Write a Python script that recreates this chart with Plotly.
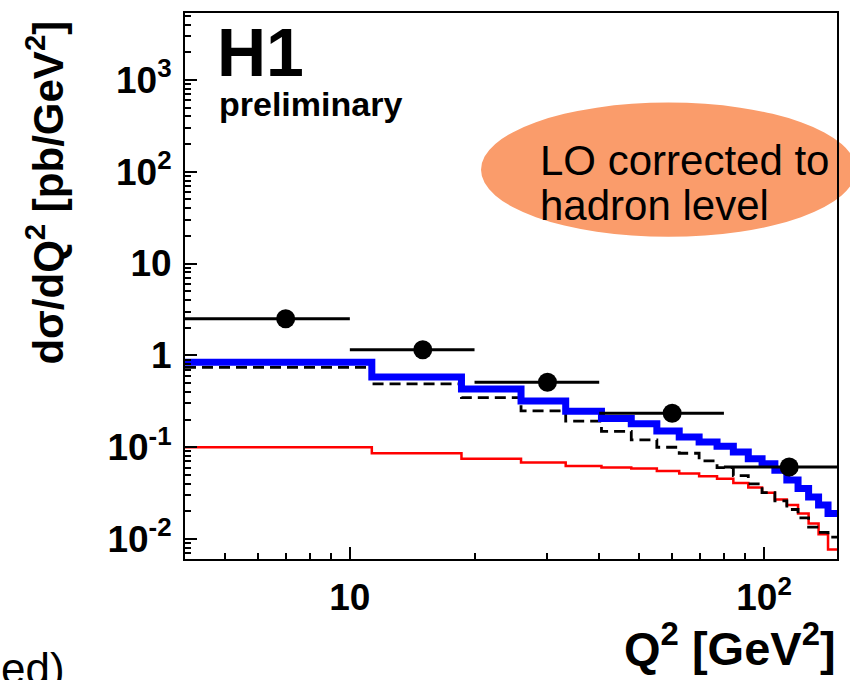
import plotly.graph_objects as go

# ---- data ----
BIN_EDGES = [4.0, 11.3, 18.6, 25.9, 33.2, 40.5, 47.8, 55.1, 62.4, 69.7, 77.0,
             84.3, 91.6, 98.9, 106.2, 113.5, 120.8, 128.1, 135.4, 142.7, 150.0]
BLUE_VALS = [0.84, 0.58, 0.43, 0.318, 0.246, 0.205, 0.18, 0.150, 0.129, 0.114,
             0.1026, 0.089, 0.075, 0.066, 0.056, 0.044, 0.0355, 0.0288, 0.0235, 0.019]
DASHED_VALS = [0.74, 0.49, 0.347, 0.249, 0.192, 0.149, 0.12, 0.10, 0.086, 0.071,
               0.060, 0.049, 0.040, 0.032, 0.026, 0.021, 0.017, 0.0135, 0.0118, 0.0105]
RED_VALS = [0.100, 0.086, 0.075, 0.0684, 0.0626, 0.060, 0.0585, 0.055, 0.0516, 0.0484,
            0.0454, 0.0409, 0.0365, 0.032, 0.027, 0.0235, 0.019, 0.0148, 0.0113, 0.0077]

DATA_Q2 = [7, 15, 30, 60, 115]
DATA_VALS = [2.5, 1.15, 0.51, 0.234, 0.061]
DATA_LO = [4, 10, 20, 40, 80]
DATA_HI = [10, 20, 40, 80, 150]

Y_TICK_VALS = [0.01, 0.1, 1, 10, 100, 1000]
Y_TICK_TEXT = ["10<sup>-2</sup>", "10<sup>-1</sup>", "1", "10", "10<sup>2</sup>", "10<sup>3</sup>"]
X_TICK_VALS = [10, 100]
X_TICK_TEXT = ["10", "10<sup>2</sup>"]

Y_MINOR = [m * 10.0 ** e for e in range(-3, 4) for m in range(2, 10)]
X_MINOR = [m * 10.0 ** e for e in range(0, 3) for m in range(2, 10)]

FONT = "Liberation Sans, Arial, Helvetica, sans-serif"


def step_xy(edges, vals):
    return list(edges), list(vals) + [vals[-1]]


fig = go.Figure()

x, y = step_xy(BIN_EDGES, RED_VALS)
fig.add_trace(go.Scatter(x=x, y=y, mode="lines", line_shape="hv",
                         line=dict(color="#ff0000", width=2.5), showlegend=False))
x, y = step_xy(BIN_EDGES, DASHED_VALS)
fig.add_trace(go.Scatter(x=x, y=y, mode="lines", line_shape="hv",
                         line=dict(color="black", width=2.8, dash="11px,6px"), showlegend=False))
x, y = step_xy(BIN_EDGES, BLUE_VALS)
fig.add_trace(go.Scatter(x=x, y=y, mode="lines", line_shape="hv",
                         line=dict(color="#0000ff", width=7), showlegend=False))

fig.add_trace(go.Scatter(
    x=DATA_Q2, y=DATA_VALS, mode="markers",
    marker=dict(color="black", size=19, symbol="circle"),
    error_x=dict(type="data", symmetric=False,
                 array=[h - q for h, q in zip(DATA_HI, DATA_Q2)],
                 arrayminus=[q - l for q, l in zip(DATA_Q2, DATA_LO)],
                 color="black", thickness=3, width=0),
    showlegend=False, cliponaxis=True))

axis_common = dict(type="log", showline=True, mirror=True, linecolor="black", linewidth=2,
                   showgrid=False, zeroline=False, ticks="inside", tickcolor="black",
                   tickwidth=1.5, tickmode="array",
                   tickfont=dict(family=FONT, size=37, color="black", weight="bold"))

fig.update_xaxes(**axis_common, range=[0.60206, 2.17609], ticklen=12,
                 tickvals=X_TICK_VALS, ticktext=X_TICK_TEXT,
                 minor=dict(tickmode="array", tickvals=X_MINOR, ticks="inside", ticklen=6,
                            tickcolor="black", tickwidth=1.5, showgrid=False),
                 ticklabelstandoff=5)
fig.update_yaxes(**axis_common, range=[-2.217, 3.728], ticklen=12,
                 tickvals=Y_TICK_VALS, ticktext=Y_TICK_TEXT,
                 minor=dict(tickmode="array", tickvals=Y_MINOR, ticks="inside", ticklen=6,
                            tickcolor="black", tickwidth=1.5, showgrid=False),
                 ticklabelstandoff=4)

# Ellipse label
fig.add_shape(type="circle", xref="paper", yref="paper",
              x0=0.454, x1=1.029, y0=0.590, y1=0.836,
              fillcolor="#fa9c6b", line=dict(width=0), layer="below")

annos = [
    dict(text="H1", x=0.048, y=0.929, size=68, bold=True, xanchor="left"),
    dict(text="preliminary", x=0.050, y=0.833, size=34, bold=True, xanchor="left"),
    dict(text="LO corrected to", x=0.543, y=0.730, size=42, bold=False, xanchor="left"),
    dict(text="hadron level", x=0.543, y=0.647, size=42, bold=False, xanchor="left"),
    dict(text="Q<sup>2</sup> [GeV<sup>2</sup>]", x=1.0, y=-0.158, size=47, bold=True, xanchor="right"),
    dict(text="ed)", x=-0.283, y=-0.2, size=44, bold=False, xanchor="left"),
]
for a in annos:
    fig.add_annotation(text=a["text"], xref="paper", yref="paper", x=a["x"], y=a["y"],
                       xanchor=a["xanchor"], yanchor="middle", showarrow=False, borderpad=0,
                       font=dict(family=FONT, size=a["size"], color="black",
                                 weight="bold" if a["bold"] else "normal"))

fig.add_annotation(text="d\u03c3/dQ<sup>2</sup> [pb/GeV<sup>2</sup>]", xref="paper", yref="paper",
                   x=-0.214, y=0.672, xanchor="center", yanchor="middle", textangle=-90,
                   showarrow=False, borderpad=0,
                   font=dict(family=FONT, size=42, color="black", weight="bold"))

fig.update_layout(width=850, height=680, margin=dict(l=185, r=11, t=12, b=121),
                  paper_bgcolor="white", plot_bgcolor="rgba(0,0,0,0)")

fig.write_html("out.html")
